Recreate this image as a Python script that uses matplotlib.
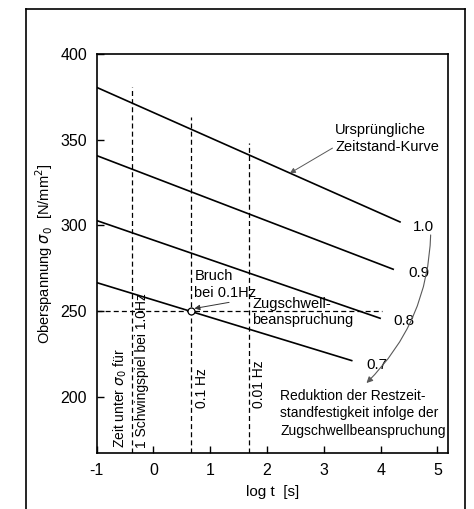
import matplotlib.pyplot as plt
from matplotlib.lines import Line2D

plt.rcParams['font.family'] = ['Liberation Sans', 'DejaVu Sans']

# Zeitstand-Kurven (Faktor, log t am Ende, sigma Anfang/Ende)
curve_factors = ["1.0", "0.9", "0.8", "0.7"]
curve_x_start = [-1.0, -1.0, -1.0, -1.0]
curve_x_end = [4.34, 4.22, 3.99, 3.49]
curve_y_start = [380.5, 340.7, 302.8, 266.6]
curve_y_end = [302.0, 274.4, 245.8, 221.1]

# Frequenzlinien (log t) und deren obere Enden
freq_x = [-0.38, 0.66, 1.68]
freq_top = [380.7, 363.4, 348.0]

# Bruchpunkt bei 0.1 Hz
break_x = 0.66
break_y = 250.0
break_line_end = 4.02

x_ticks = [-1, 0, 1, 2, 3, 4, 5]
y_ticks = [200, 250, 300, 350, 400]

fig = plt.figure(figsize=(4.74, 5.09), dpi=100)
ax = fig.add_axes([0.204, 0.1094, 0.7405, 0.7846])

# outer frame of the figure
for xs, ys in [([0.055, 0.055], [-0.1, 0.982]),
               ([0.055, 0.980], [0.982, 0.982]),
               ([0.980, 0.980], [-0.1, 0.982])]:
    fig.add_artist(Line2D(xs, ys, transform=fig.transFigure, color='black', lw=1.2))

# curves
for xs, xe, ys, ye in zip(curve_x_start, curve_x_end, curve_y_start, curve_y_end):
    ax.plot([xs, xe], [ys, ye], color='black', lw=1.2)

label_pos = [(4.57, 299), (4.49, 272), (4.22, 244), (3.74, 218.5)]
for lab, (lx, ly) in zip(curve_factors, label_pos):
    ax.text(lx, ly, lab, fontsize=11, ha='left', va='center')

# dashed frequency lines
for fx, ft in zip(freq_x, freq_top):
    ax.plot([fx, fx], [167, ft], color='black', lw=0.9, dashes=(4, 2.5))
ax.plot([-1, break_line_end], [break_y, break_y], color='black', lw=0.9, dashes=(4, 2.5))
ax.plot([break_x], [break_y], marker='o', ms=5, mfc='white', mec='black', mew=0.9, zorder=5)

# rotated texts
ax.text(-0.59, 170, r'Zeit unter $\sigma_0$ für', rotation=90, fontsize=10,
        ha='center', va='bottom')
ax.text(-0.21, 170, '1 Schwingspiel bei 1.0Hz', rotation=90, fontsize=10,
        ha='center', va='bottom')
ax.text(0.85, 193.5, '0.1 Hz', rotation=90, fontsize=10, ha='center', va='bottom')
ax.text(1.86, 193.5, '0.01 Hz', rotation=90, fontsize=10, ha='center', va='bottom')

# annotations
ax.annotate('Ursprüngliche\nZeitstand-Kurve', xy=(2.40, 330.4), xytext=(3.2, 350.5),
            fontsize=10.5, ha='left', va='center', linespacing=1.25,
            arrowprops=dict(arrowstyle='-|>', color='0.35', lw=0.7, mutation_scale=8,
                            shrinkA=0, shrinkB=0, relpos=(0.0, 0.25)))
ax.annotate('Bruch\nbei 0.1Hz', xy=(0.72, 251.5), xytext=(0.72, 265.5),
            fontsize=10.5, ha='left', va='center', linespacing=1.2,
            arrowprops=dict(arrowstyle='-|>', color='0.2', lw=0.7, mutation_scale=8,
                            shrinkA=0, shrinkB=0, relpos=(0.95, 0.05)))
ax.text(1.74, 249.5, 'Zugschwell-\nbeanspruchung', fontsize=10.5, ha='left', va='center',
        linespacing=1.25)
ax.text(2.23, 190.4, 'Reduktion der Restzeit-\nstandfestigkeit infolge der\n'
        'Zugschwellbeanspruchung', fontsize=10, ha='left', va='center', linespacing=1.3)
ax.annotate('', xy=(3.75, 208), xytext=(4.88, 294.4),
            arrowprops=dict(arrowstyle='-|>', color='0.35', lw=0.8, mutation_scale=9,
                            shrinkA=0, shrinkB=0, connectionstyle='arc3,rad=-0.2'))

ax.set_xlim(-1, 5.18)
ax.set_ylim(167, 400)
ax.set_xticks(x_ticks)
ax.set_xticklabels(['-1', '0', '1', '2', '3', '4', '5'])
ax.set_yticks(y_ticks)
ax.tick_params(direction='in', length=5, width=1, labelsize=11.5, pad=7)
for sp in ax.spines.values():
    sp.set_linewidth(1.2)

ax.set_xlabel('log t  [s]', fontsize=11, labelpad=5)
ax.set_ylabel(r'Oberspannung $\sigma_0$  [N/mm$^2$]', fontsize=10.5, labelpad=4)

fig.savefig('out.png', dpi=100)
